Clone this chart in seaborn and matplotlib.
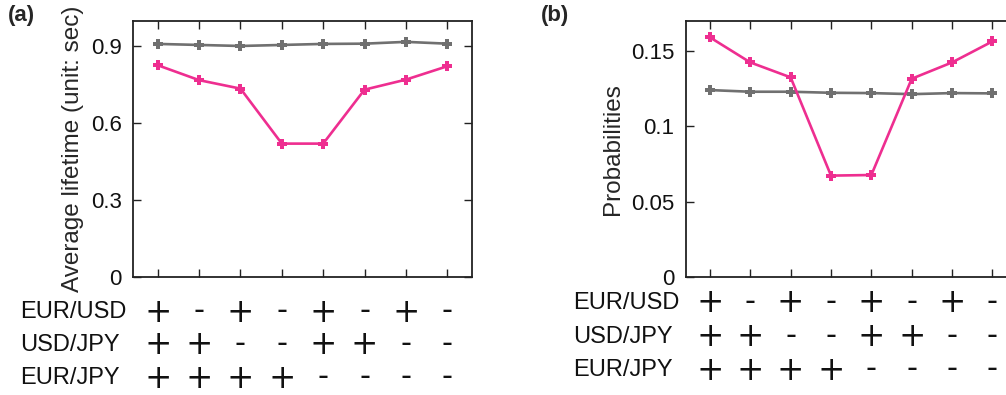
import matplotlib
matplotlib.use("Agg")
import matplotlib.pyplot as plt
import matplotlib.transforms as mtransforms
import numpy as np
import pandas as pd
import seaborn as sns

# Sign patterns of the three currency pairs for each of the 8 states
pairs = ["EUR/USD", "USD/JPY", "EUR/JPY"]
eur_usd = ["+", "-", "+", "-", "+", "-", "+", "-"]
usd_jpy = ["+", "+", "-", "-", "+", "+", "-", "-"]
eur_jpy = ["+", "+", "+", "+", "-", "-", "-", "-"]
states = list(range(8))

# (a) average lifetime in seconds
life_gray = [0.909, 0.905, 0.901, 0.905, 0.909, 0.910, 0.917, 0.910]
life_pink = [0.826, 0.768, 0.735, 0.521, 0.521, 0.731, 0.770, 0.822]

# (b) probabilities
prob_gray = [0.1240, 0.1229, 0.1229, 0.1222, 0.1220, 0.1213, 0.1220, 0.1218]
prob_pink = [0.1589, 0.1423, 0.1324, 0.0674, 0.0678, 0.1315, 0.1423, 0.1562]

sns.set_style("ticks")
plt.rcParams["font.family"] = ["Liberation Sans", "DejaVu Sans"]
plt.rcParams["axes.linewidth"] = 1.3
plt.rcParams["axes.edgecolor"] = "#222222"

PINK = "#ee2e90"
GRAY = "#707070"

fig = plt.figure(figsize=(10.06, 3.95), dpi=100)
ax_a = fig.add_axes([0.1322, 0.2975, 0.3370, 0.6505])
ax_b = fig.add_axes([0.6816, 0.2975, 0.3290, 0.6505])


def draw_panel(ax, gray, pink, ylim, yticks, yticklabels, ylabel, label_x, rows_y):
    df = pd.DataFrame({
        "state": states * 2,
        "value": gray + pink,
        "series": ["gray"] * 8 + ["pink"] * 8,
    })
    sns.lineplot(data=df, x="state", y="value", hue="series",
                 palette={"gray": GRAY, "pink": PINK}, marker="P",
                 markersize=7.5, markeredgewidth=0, linewidth=1.9,
                 legend=False, ax=ax)
    ax.set_xlim(-0.6, 7.6)
    ax.set_ylim(*ylim)
    ax.set_xticks(states)
    ax.set_xticklabels([])
    ax.set_yticks(yticks)
    ax.set_yticklabels(yticklabels, fontsize=16)
    ax.set_xlabel("")
    ax.set_ylabel(ylabel, fontsize=17.5, labelpad=5)
    ax.tick_params(axis="both", direction="in", length=6, width=1,
                   top=True, right=True, colors="#222222", pad=8)
    ax.tick_params(axis="y", labelcolor="#111111")
    for s in ax.spines.values():
        s.set_visible(True)

    # sign table under the axes: one row per currency pair
    trans = mtransforms.blended_transform_factory(ax.transData, fig.transFigure)
    for signs, name, yy in zip([eur_usd, usd_jpy, eur_jpy], pairs, rows_y):
        fig.text(label_x, yy, name, fontsize=17, ha="left", va="center",
                 color="#111111")
        for xi, sgn in zip(states, signs):
            if sgn == "+":
                ax.text(xi, yy, "+", transform=trans, fontsize=23.5,
                        family="DejaVu Sans", ha="center", va="center",
                        color="#111111", clip_on=False)
            else:
                ax.text(xi, yy + 0.004, "-", transform=trans, fontsize=22,
                        family="DejaVu Sans", ha="center", va="center",
                        color="#111111", clip_on=False)


draw_panel(ax_a, life_gray, life_pink, (0, 1.0), [0, 0.3, 0.6, 0.9],
           ["0", "0.3", "0.6", "0.9"], "Average lifetime (unit: sec)",
           20 / 1006, [1 - 312 / 395, 1 - 345 / 395, 1 - 378 / 395])
draw_panel(ax_b, prob_gray, prob_pink, (0, 0.17), [0, 0.05, 0.1, 0.15],
           ["0", "0.05", "0.1", "0.15"], "Probabilities",
           573 / 1006, [1 - 303 / 395, 1 - 337 / 395, 1 - 370 / 395])

fig.text(8 / 1006, 1 - 16 / 395, "(a)", fontsize=16, fontweight="bold",
         ha="left", va="center")
fig.text(541 / 1006, 1 - 16 / 395, "(b)", fontsize=16, fontweight="bold",
         ha="left", va="center")

fig.savefig("out.png", dpi=100)
